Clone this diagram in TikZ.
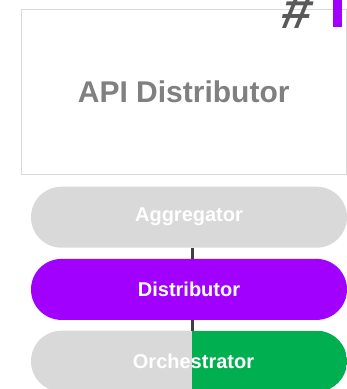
\documentclass[tikz,border=0pt]{standalone}
\usepackage{fontspec}
\usetikzlibrary{calc}
\setmainfont{Liberation Sans}
\definecolor{pillgray}{HTML}{D9D9D9}
\definecolor{boxline}{HTML}{D9D9D9}
\definecolor{boxtext}{HTML}{808080}
\definecolor{purp}{HTML}{A100FF}
\definecolor{grn}{HTML}{00B050}
\definecolor{linkc}{HTML}{404040}
\definecolor{hashc}{HTML}{595959}
\tikzset{
  pill/.style={rounded corners=30.5pt, minimum width=316pt, minimum height=61pt, inner sep=0pt,
    text=white, font=\bfseries\fontsize{20}{24}\selectfont},
  link/.style={draw=linkc, line width=3pt}
}
\begin{document}
\begin{tikzpicture}[x=1pt,y=-1pt]
\useasboundingbox (0,0) rectangle (347,389);
\fill[white] (0,0) rectangle (347,389);
% main box
\node[draw=boxline, line width=1pt, minimum width=325.5pt, minimum height=164.5pt, inner sep=0pt,
  text=boxtext, font=\bfseries\fontsize{30}{36}\selectfont] (api) at (183.75,91.75) {API Distributor};
% hash and bar
\node[text=hashc, font=\bfseries\fontsize{54}{54}\selectfont, inner sep=0pt, xslant=0.2, anchor=south] (hash) at (294,29) {\#};
\fill[purp] (333,-2) rectangle (342,26.7);
% pills
\node[pill, fill=pillgray] (agg) at (189,217.2) {Aggregator};
\node[pill, fill=purp] (dist) at (189,289.4) {Distributor};
\node[pill, fill=pillgray,
  path picture={\fill[grn, sharp corners] ($(path picture bounding box.north west)+(161.3,0)$) rectangle (path picture bounding box.south east);}
  ] (orch) at (189,361.2) {};
\node[text=white, font=\bfseries\fontsize{20}{24}\selectfont, inner sep=0pt] (orchlabel) at (193.5,361.2) {Orchestrator};
% connectors
\coordinate (lk) at (192,0);
\draw[link] (agg.south -| lk) -- (dist.north -| lk);
\draw[link] (dist.south -| lk) -- (orch.north -| lk);
\end{tikzpicture}
\end{document}
